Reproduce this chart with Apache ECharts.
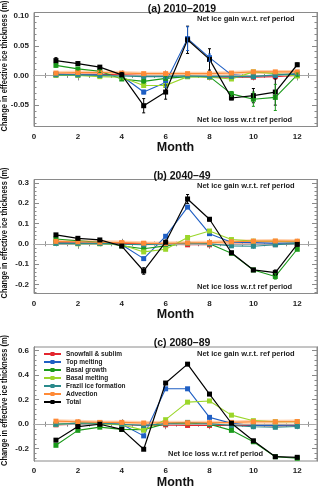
<!DOCTYPE html>
<html><head><meta charset="utf-8">
<script src="https://cdn.jsdelivr.net/npm/echarts@6/dist/echarts.min.js"></script>
<style>html,body{margin:0;padding:0;background:#fff}#c{width:320px;height:486px}</style>
</head><body><div id="c"></div>
<script>
const months = [1,2,3,4,5,6,7,8,9,10,11,12];
const seriesNames = ['Snowfall & sublim','Top melting','Basal growth','Basal melting','Frazil ice formation','Advection','Total'];
const seriesColors = ['#e3262e','#1f5fc4','#1b9a1b','#9bd62a','#2a8a8c','#ff8a36','#000000'];
const panelTitles = ['(a) 2010\u20132019','(b) 2040\u201349','(c) 2080\u201389'];
const gainText = 'Net ice gain w.r.t. ref period';
const lossText = 'Net ice loss w.r.t ref period';
const yName = 'Change in effective ice thickness (m)';

// (a) 2010-2019
const aSnow  = [0.002,0.002,0.002,0.001,0.000,0.000,0.000,-0.003,-0.003,-0.003,-0.002,0.000];
const aTop   = [0.002,0.001,0.001,-0.001,-0.028,-0.012,0.062,0.030,0.001,-0.001,0.000,0.002];
const aGrow  = [0.017,0.011,0.007,-0.006,-0.010,-0.005,-0.002,-0.002,-0.031,-0.040,-0.037,0.001];
const aMelt  = [0.000,0.000,-0.002,-0.003,-0.017,-0.017,-0.002,-0.003,-0.006,0.006,0.003,-0.001];
const aFraz  = [0.001,0.001,0.000,-0.001,-0.002,-0.002,-0.001,-0.002,-0.002,-0.002,0.001,0.003];
const aAdv   = [0.004,0.005,0.005,0.004,0.003,0.003,0.003,0.003,0.004,0.006,0.006,0.006];
const aTotal = [0.025,0.020,0.014,0.001,-0.051,-0.028,0.060,0.027,-0.038,-0.034,-0.028,0.018];
const aTotalErr = [0.005,0.003,0.002,0.004,0.012,0.012,0.023,0.018,0.003,0.012,0.022,0.003];
const aTopErr   = [0,0,0,0,0.003,0.008,0.020,0.006,0,0,0,0];
const aGrowErr  = [0.003,0.002,0.002,0.002,0.003,0.003,0,0,0.004,0.012,0.022,0.003];

// (b) 2040-49
const bSnow  = [0.005,0.004,0.003,0.002,0.000,-0.002,-0.005,-0.005,-0.003,-0.002,-0.004,0.000];
const bTop   = [0.003,0.003,0.003,-0.005,-0.073,0.037,0.181,0.050,0.008,0.006,0.002,0.005];
const bGrow  = [0.024,0.015,0.008,-0.010,-0.024,-0.010,0.002,0.000,-0.047,-0.129,-0.161,-0.027];
const bMelt  = [0.002,0.000,0.000,-0.005,-0.040,-0.027,0.031,0.063,0.021,0.013,0.012,0.010];
const bFraz  = [0.002,0.002,0.002,-0.002,-0.005,0.000,0.003,0.000,-0.010,-0.012,-0.005,0.002];
const bAdv   = [0.012,0.010,0.008,0.006,0.003,0.002,0.004,0.006,0.010,0.013,0.014,0.013];
const bTotal = [0.044,0.027,0.019,-0.011,-0.134,0.008,0.221,0.121,-0.044,-0.129,-0.142,-0.003];
const bTotalErr = [0.006,0.004,0.004,0.004,0.016,0.006,0.022,0.008,0.006,0.005,0.013,0.005];
const bGrowErr  = [0,0,0,0,0,0,0,0,0,0,0.013,0];

// (c) 2080-89
const cSnow  = [-0.005,0.000,0.000,-0.002,-0.010,-0.005,-0.010,-0.010,-0.010,-0.010,-0.015,-0.010];
const cTop   = [0.000,0.010,0.010,0.000,-0.095,0.289,0.289,0.056,0.008,-0.010,-0.010,-0.005];
const cGrow  = [-0.172,-0.050,-0.024,-0.042,-0.045,0.005,0.010,0.000,-0.050,-0.143,-0.265,-0.278];
const cMelt  = [0.000,0.010,0.005,-0.005,-0.048,0.037,0.180,0.190,0.074,0.029,0.020,0.020];
const cFraz  = [0.000,0.008,0.008,0.000,-0.010,0.005,0.015,0.005,-0.010,-0.020,-0.025,-0.018];
const cAdv   = [0.025,0.020,0.015,0.015,0.010,0.012,0.012,0.012,0.015,0.020,0.020,0.022];
const cTotal = [-0.130,-0.019,0.000,-0.042,-0.204,0.336,0.490,0.246,0.008,-0.135,-0.265,-0.270];

// y axes: ranges and tick labels
const yRanges = [[-0.086,0.106],[-0.245,0.317],[-0.30,0.63]];
const aTicks = [-0.05,0.00,0.05,0.10];
const bTicks = [-0.2,-0.1,0.0,0.1,0.2,0.3];
const cTicks = [-0.2,0.0,0.2,0.4,0.6];
const xTicks = [0,2,4,6,8,10,12];

const panelData = [
  {vals:[aSnow,aTop,aGrow,aMelt,aFraz,aAdv,aTotal], ticks:aTicks, dec:2, minor:0.01,
   errs:[[6,aTotal,aTotalErr],[1,aTop,aTopErr],[2,aGrow,aGrowErr]]},
  {vals:[bSnow,bTop,bGrow,bMelt,bFraz,bAdv,bTotal], ticks:bTicks, dec:1, minor:0.02,
   errs:[[6,bTotal,bTotalErr],[2,bGrow,bGrowErr]]},
  {vals:[cSnow,cTop,cGrow,cMelt,cFraz,cAdv,cTotal], ticks:cTicks, dec:1, minor:0.04, errs:[]}
];

const gridTops = [12.5, 179.5, 347];
const gridH = 114;
const FONT = 'Liberation Sans';
const boxColor = '#8a8a8a';

// measure y-name to compress it to the reference's length
const NAME_FONT = 'bold 8.6px "Liberation Sans"';
const mctx = document.createElement('canvas').getContext('2d');
mctx.font = NAME_FONT;
const nameW = mctx.measureText(yName).width || 160;
const nameScale = Math.min(1, 131 / nameW);

const option = {
  animation:false,
  backgroundColor:'#fff',
  textStyle:{fontFamily:FONT},
  title:[], grid:[], xAxis:[], yAxis:[], series:[], graphic:[],
  legend:{
    left:43, top:350, orient:'vertical', itemWidth:17, itemHeight:5, itemGap:0,
    padding:0,
    textStyle:{fontSize:6.5, lineHeight:8, fontWeight:'bold', color:'#222', fontFamily:FONT},
    data:seriesNames
  }
};

function minorList(lo,hi,step){
  const out=[]; let v=Math.ceil(lo/step-1e-9)*step;
  for(; v<=hi+1e-9; v+=step) out.push(+v.toFixed(4));
  return out;
}

panelData.forEach((p,gi)=>{
  const [ymin,ymax]=yRanges[gi];
  option.grid.push({left:34, width:283, top:gridTops[gi], height:gridH, show:true, borderColor:boxColor, borderWidth:1,
    backgroundColor:'transparent', containLabel:false, outerBoundsMode:'none'});
  option.title.push({text:panelTitles[gi], left:177, textAlign:'center', top:gridTops[gi]-14,
    textStyle:{fontSize:10.5, fontWeight:'bold', color:'#111', fontFamily:FONT}});
  option.graphic.push({type:'text', left:197, top:gridTops[gi]+2.5, style:{text:gainText, font:'bold 7.5px '+FONT, fill:'#222'}});
  option.graphic.push({type:'text', left:(gi===2?168:197), top:gridTops[gi]+gridH-11, style:{text:lossText, font:'bold 7.5px '+FONT, fill:'#222'}});
  option.graphic.push({type:'text', x:5, y:gridTops[gi]+gridH/2-3.5, rotation:Math.PI/2, scaleX:nameScale, scaleY:1,
    style:{text:yName, font:NAME_FONT, fill:'#111', textAlign:'center', textVerticalAlign:'middle'}});

  const xi = option.xAxis.length;
  option.xAxis.push({type:'value', gridIndex:gi, min:0, max:12.9, interval:2, position:'bottom',
    axisLine:{show:true, lineStyle:{color:boxColor}}, splitLine:{show:false},
    axisTick:{inside:true, length:5, lineStyle:{color:boxColor}},
    minorTick:{show:true, splitNumber:4, length:2.5, lineStyle:{color:boxColor}},
    axisLabel:{customValues:xTicks, fontSize:8, fontWeight:'bold', color:'#222', margin:6, fontFamily:FONT},
    name:'Month', nameLocation:'middle', nameGap:15,
    nameTextStyle:{fontSize:12.5, fontWeight:'bold', color:'#111', fontFamily:FONT}});
  option.xAxis.push({type:'value', gridIndex:gi, min:0, max:12.9, interval:2, position:'top',
    axisLine:{show:true, lineStyle:{color:boxColor}}, splitLine:{show:false},
    axisTick:{inside:true, length:5, lineStyle:{color:boxColor}},
    minorTick:{show:true, splitNumber:4, length:2.5, lineStyle:{color:boxColor}},
    axisLabel:{show:false}});

  const yi = option.yAxis.length;
  const minors = minorList(ymin,ymax,p.minor);
  const common = {type:'value', gridIndex:gi, min:ymin, max:ymax, splitLine:{show:false},
    axisLine:{show:true, lineStyle:{color:boxColor}}};
  option.yAxis.push(Object.assign({}, common, {position:'left',
    axisTick:{inside:true, length:5, customValues:p.ticks, lineStyle:{color:boxColor}},
    axisLabel:{customValues:p.ticks, formatter:v=>v.toFixed(p.dec), fontSize:8, fontWeight:'bold', color:'#222', margin:5, fontFamily:FONT}}));
  option.yAxis.push(Object.assign({}, common, {position:'left',
    axisTick:{inside:true, length:2.5, customValues:minors, lineStyle:{color:boxColor}}, axisLabel:{show:false}}));
  option.yAxis.push(Object.assign({}, common, {position:'right',
    axisTick:{inside:true, length:5, customValues:p.ticks, lineStyle:{color:boxColor}}, axisLabel:{show:false}}));
  option.yAxis.push(Object.assign({}, common, {position:'right',
    axisTick:{inside:true, length:2.5, customValues:minors, lineStyle:{color:boxColor}}, axisLabel:{show:false}}));

  option.series.push({type:'line', xAxisIndex:xi, yAxisIndex:yi, data:[], silent:true,
    markLine:{silent:true, symbol:'none', label:{show:false}, lineStyle:{color:'#a8a8a8', width:1, type:'solid'}, data:[{yAxis:0}]}});

  option.series.push({type:'line', xAxisIndex:xi, yAxisIndex:yi, data:months.map((m,i)=>[m,p.vals[5][i]]),
    showSymbol:false, lineStyle:{color:'#ffd2b0', width:4}, silent:true, z:1});

  p.vals.forEach((vals,si)=>{
    option.series.push({name:seriesNames[si], type:'line', xAxisIndex:xi, yAxisIndex:yi,
      data:months.map((m,i)=>[m,vals[i]]), symbol:'rect', symbolSize:5, showSymbol:true,
      color:seriesColors[si], lineStyle:{color:seriesColors[si], width:si===6?1.2:1.1},
      itemStyle:{color:seriesColors[si]}, z:2+si});
  });

  p.errs.forEach(([si,vals,errs])=>{
    const data = months.map((m,i)=>[m, vals[i]-errs[i], vals[i]+errs[i]]).filter((d,i)=>errs[i]>0);
    option.series.push({type:'custom', xAxisIndex:xi, yAxisIndex:yi, data, silent:true, z:20,
      renderItem:(params,api)=>{
        const x=api.value(0), lo=api.coord([x,api.value(1)]), hi=api.coord([x,api.value(2)]);
        const st={stroke:seriesColors[si], lineWidth:1};
        return {type:'group', children:[
          {type:'line', shape:{x1:lo[0],y1:lo[1],x2:hi[0],y2:hi[1]}, style:st},
          {type:'line', shape:{x1:lo[0]-1.5,y1:lo[1],x2:lo[0]+1.5,y2:lo[1]}, style:st},
          {type:'line', shape:{x1:hi[0]-1.5,y1:hi[1],x2:hi[0]+1.5,y2:hi[1]}, style:st}
        ]};
      }});
  });
});

const chart = echarts.init(document.getElementById('c'), null, {renderer:'canvas'});
chart.setOption(option);
</script>
</body></html>
